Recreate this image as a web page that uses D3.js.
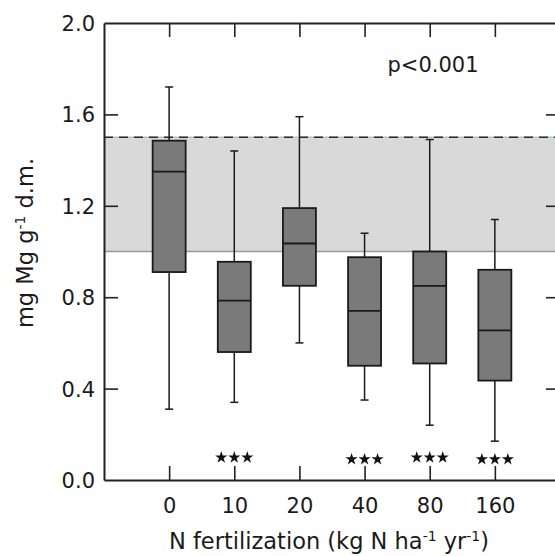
<!DOCTYPE html>
<html>
<head>
<meta charset="utf-8">
<script src="https://cdn.jsdelivr.net/npm/d3@7"></script>
<style>
  html, body { margin: 0; padding: 0; background: #fff; }
  svg text { font-family: "DejaVu Sans", "Liberation Sans", Arial, sans-serif; fill: #1a1a1a; }
</style>
</head>
<body>
<div id="chart"></div>
<script>
// categories (N fertilization, kg N ha-1 yr-1)
const categories = ['0', '10', '20', '40', '80', '160'];
// box statistics (mg Mg g-1 d.m.)
const whiskerLow  = [0.31, 0.34, 0.60, 0.35, 0.24, 0.17];
const quartileLow = [0.91, 0.56, 0.85, 0.50, 0.51, 0.435];
const medians     = [1.35, 0.785, 1.035, 0.74, 0.85, 0.655];
const quartileHigh= [1.485, 0.955, 1.19, 0.975, 1.0, 0.92];
const whiskerHigh = [1.72, 1.44, 1.59, 1.08, 1.49, 1.14];
// significance marks
const starCats = ['10', '40', '80', '160'];
const starLevel = [0.103, 0.095, 0.103, 0.095];
// reference range
const refRange = [1.0, 1.5];
const yTicks = [0.0, 0.4, 0.8, 1.2, 1.6, 2.0];

const width = 555, height = 556;
const margin = { top: 23, left: 104, bottom: 76 };
const plotRight = 560;
const fontFamily = '"DejaVu Sans", "Liberation Sans", Arial, sans-serif';
const fontSize = 21;
const titleSize = 22.5;

const svg = d3.select('#chart').append('svg')
    .attr('width', width)
    .attr('height', height);

const x = d3.scalePoint()
    .domain(['', ...categories, ' '])
    .range([margin.left, plotRight]);

const y = d3.scaleLinear()
    .domain([0, 2.0])
    .range([height - margin.bottom, margin.top]);

// reference band
svg.append('rect')
    .attr('x', margin.left)
    .attr('y', y(refRange[1]))
    .attr('width', plotRight - margin.left)
    .attr('height', y(refRange[0]) - y(refRange[1]))
    .attr('fill', '#d9d9d9');

svg.append('line')
    .attr('x1', margin.left).attr('x2', plotRight)
    .attr('y1', y(refRange[0])).attr('y2', y(refRange[0]))
    .attr('stroke', '#9a9a9a').attr('stroke-width', 1.5);

svg.append('line')
    .attr('x1', margin.left).attr('x2', plotRight)
    .attr('y1', y(refRange[1])).attr('y2', y(refRange[1]))
    .attr('stroke', '#a8d0b0').attr('stroke-width', 1.5);

svg.append('line')
    .attr('x1', margin.left).attr('x2', plotRight)
    .attr('y1', y(refRange[1])).attr('y2', y(refRange[1]))
    .attr('stroke', '#2a2a2a').attr('stroke-width', 1.6)
    .attr('stroke-dasharray', '9,6');

// boxes
const boxes = categories.map((c, i) => ({
    cat: c,
    lo: whiskerLow[i], q1: quartileLow[i], med: medians[i],
    q3: quartileHigh[i], hi: whiskerHigh[i]
}));

const boxW = 33, capW = 8;
const g = svg.append('g').attr('class', 'boxes');

const box = g.selectAll('g')
    .data(boxes)
    .join('g');

box.append('line')
    .attr('x1', d => x(d.cat)).attr('x2', d => x(d.cat))
    .attr('y1', d => y(d.lo)).attr('y2', d => y(d.hi))
    .attr('stroke', '#1a1a1a').attr('stroke-width', 1.5);

box.append('line')
    .attr('x1', d => x(d.cat) - capW / 2).attr('x2', d => x(d.cat) + capW / 2)
    .attr('y1', d => y(d.hi)).attr('y2', d => y(d.hi))
    .attr('stroke', '#1a1a1a').attr('stroke-width', 1.5);

box.append('line')
    .attr('x1', d => x(d.cat) - capW / 2).attr('x2', d => x(d.cat) + capW / 2)
    .attr('y1', d => y(d.lo)).attr('y2', d => y(d.lo))
    .attr('stroke', '#1a1a1a').attr('stroke-width', 1.5);

box.append('rect')
    .attr('x', d => x(d.cat) - boxW / 2)
    .attr('y', d => y(d.q3))
    .attr('width', boxW)
    .attr('height', d => y(d.q1) - y(d.q3))
    .attr('fill', '#7a7a7a')
    .attr('stroke', '#1a1a1a').attr('stroke-width', 1.8);

box.append('line')
    .attr('x1', d => x(d.cat) - boxW / 2).attr('x2', d => x(d.cat) + boxW / 2)
    .attr('y1', d => y(d.med)).attr('y2', d => y(d.med))
    .attr('stroke', '#1a1a1a').attr('stroke-width', 1.8);

// frame and axes
const axisColor = '#222';
const tickLen = 14;

const leftAxis = svg.append('g')
    .attr('transform', `translate(${margin.left},0)`)
    .call(d3.axisLeft(y).tickValues(yTicks).tickFormat(d3.format('.1f'))
        .tickSizeInner(-tickLen).tickSizeOuter(0).tickPadding(9));
leftAxis.selectAll('.tick').filter(d => d === 0 || d === 2).select('line').remove();

const rightAxis = svg.append('g')
    .attr('transform', `translate(${plotRight},0)`)
    .call(d3.axisRight(y).tickValues(yTicks.slice(1, -1))
        .tickSizeInner(-tickLen).tickSizeOuter(0).tickFormat(''));

const bottomAxis = svg.append('g')
    .attr('transform', `translate(0,${y(0)})`)
    .call(d3.axisBottom(x).tickValues(categories)
        .tickSizeInner(-tickLen).tickSizeOuter(0).tickPadding(18));

const topAxis = svg.append('g')
    .attr('transform', `translate(0,${y(2.0)})`)
    .call(d3.axisTop(x).tickValues(categories)
        .tickSizeInner(-tickLen).tickSizeOuter(0).tickFormat(''));

[leftAxis, rightAxis, bottomAxis, topAxis].forEach(a => {
    a.select('.domain').attr('stroke', axisColor).attr('stroke-width', 2);
    a.selectAll('.tick line').attr('stroke', axisColor).attr('stroke-width', 1.6);
    a.selectAll('.tick text')
        .attr('font-family', fontFamily)
        .attr('font-size', fontSize)
        .attr('fill', '#1a1a1a');
});
leftAxis.selectAll('.tick text').attr('dy', '0.36em');

// significance stars
const star = d3.symbol().type(d3.symbolStar).size(46);
const starG = svg.append('g');
starCats.forEach((c, i) => {
    [-13, 0, 13].forEach(dx => {
        starG.append('path')
            .attr('d', star)
            .attr('transform', `translate(${x(c) + dx},${y(starLevel[i]) + 1})`)
            .attr('fill', '#111');
    });
});

// p-value
svg.append('text')
    .attr('x', 433)
    .attr('y', 72)
    .attr('text-anchor', 'middle')
    .attr('font-size', fontSize)
    .text('p<0.001');

// axis titles
const xTitle = svg.append('text')
    .attr('x', 329)
    .attr('y', 549)
    .attr('text-anchor', 'middle')
    .attr('font-size', titleSize);
xTitle.append('tspan').text('N fertilization (kg N ha');
xTitle.append('tspan').attr('font-size', 14).attr('dy', -8).text('-1');
xTitle.append('tspan').attr('dy', 8).text(' yr');
xTitle.append('tspan').attr('font-size', 14).attr('dy', -8).text('-1');
xTitle.append('tspan').attr('dy', 8).text(')');

const yTitle = svg.append('text')
    .attr('transform', 'translate(33,243) rotate(-90)')
    .attr('text-anchor', 'middle')
    .attr('font-size', titleSize);
yTitle.append('tspan').text('mg Mg g');
yTitle.append('tspan').attr('font-size', 14).attr('dy', -8).text('-1');
yTitle.append('tspan').attr('dy', 8).text(' d.m.');
</script>
</body>
</html>
